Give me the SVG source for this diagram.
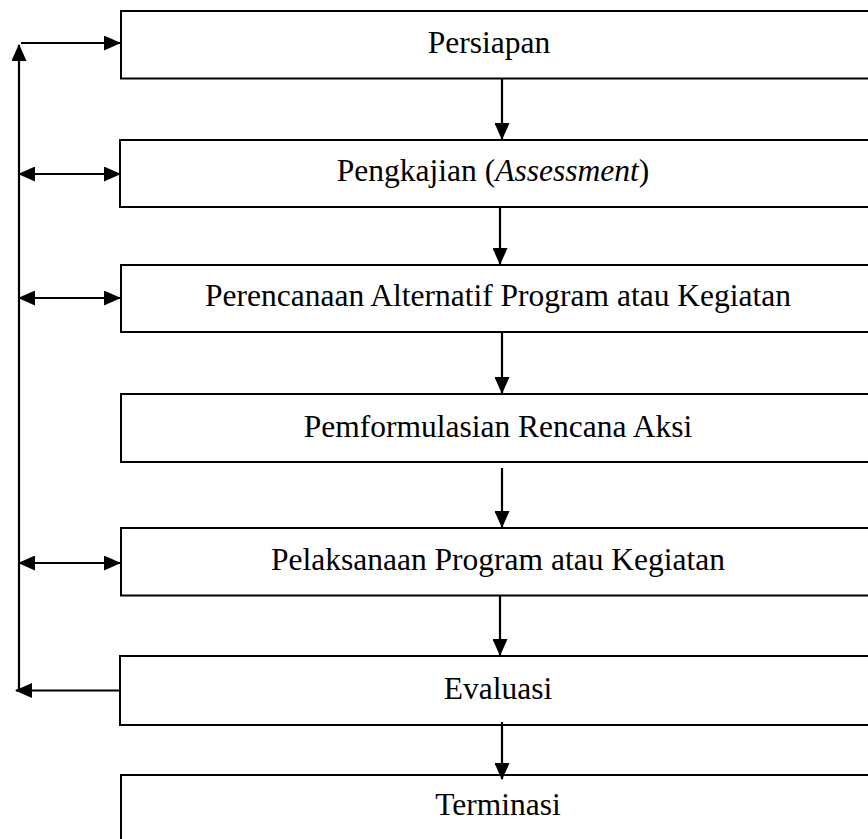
<svg xmlns="http://www.w3.org/2000/svg" width="868" height="839" viewBox="0 0 868 839">
<style>
.box{fill:#fff;stroke:#000;stroke-width:2}
.lbl{font-family:"Liberation Serif","Times New Roman",serif;font-size:31.5px;fill:#000;text-anchor:middle}
.c{fill:none;stroke:#000;stroke-width:2.2}
</style>
<defs>
<marker id="ah" viewBox="0 0 17 15" refX="16" refY="7.5" markerWidth="17" markerHeight="15" markerUnits="userSpaceOnUse" orient="auto-start-reverse">
<path d="M0,0 L17,7.5 L0,15 z" fill="#000"/>
</marker>
</defs>
<rect width="868" height="839" fill="#fff"/>
<g id="n1"><rect class="box" x="121" y="11" width="760" height="67.5"/><text class="lbl" x="489" y="53">Persiapan</text></g>
<g id="n2"><rect class="box" x="120" y="140" width="760" height="67"/><text class="lbl" x="493" y="181">Pengkajian (<tspan font-style="italic">Assessment</tspan>)</text></g>
<g id="n3"><rect class="box" x="121" y="265" width="760" height="67"/><text class="lbl" x="498" y="306">Perencanaan Alternatif Program atau Kegiatan</text></g>
<g id="n4"><rect class="box" x="121" y="394" width="760" height="68"/><text class="lbl" x="498" y="437">Pemformulasian Rencana Aksi</text></g>
<g id="n5"><rect class="box" x="121" y="528" width="760" height="67.5"/><text class="lbl" x="498" y="570">Pelaksanaan Program atau Kegiatan</text></g>
<g id="n6"><rect class="box" x="120" y="656" width="760" height="69"/><text class="lbl" x="498" y="699">Evaluasi</text></g>
<g id="n7"><rect class="box" x="121" y="775" width="760" height="80"/><text class="lbl" x="498" y="815">Terminasi</text></g>
<g id="connectors">
<line class="c" x1="502" y1="79" x2="502" y2="139" marker-end="url(#ah)"/>
<line class="c" x1="500" y1="207" x2="500" y2="264" marker-end="url(#ah)"/>
<line class="c" x1="502" y1="332" x2="502" y2="393" marker-end="url(#ah)"/>
<line class="c" x1="502" y1="468" x2="502" y2="527" marker-end="url(#ah)"/>
<line class="c" x1="500" y1="595" x2="500" y2="655" marker-end="url(#ah)"/>
<line class="c" x1="502" y1="722" x2="502" y2="779" marker-end="url(#ah)"/>
<line class="c" x1="19" y1="690" x2="19" y2="45" marker-end="url(#ah)"/>
<line class="c" x1="21" y1="43" x2="120" y2="43" marker-end="url(#ah)"/>
<line class="c" x1="19" y1="174" x2="120" y2="174" marker-start="url(#ah)" marker-end="url(#ah)"/>
<line class="c" x1="19" y1="298" x2="120" y2="298" marker-start="url(#ah)" marker-end="url(#ah)"/>
<line class="c" x1="19" y1="563" x2="120" y2="563" marker-start="url(#ah)" marker-end="url(#ah)"/>
<line class="c" x1="120" y1="690.5" x2="16" y2="690.5" marker-end="url(#ah)"/>
</g>
</svg>
